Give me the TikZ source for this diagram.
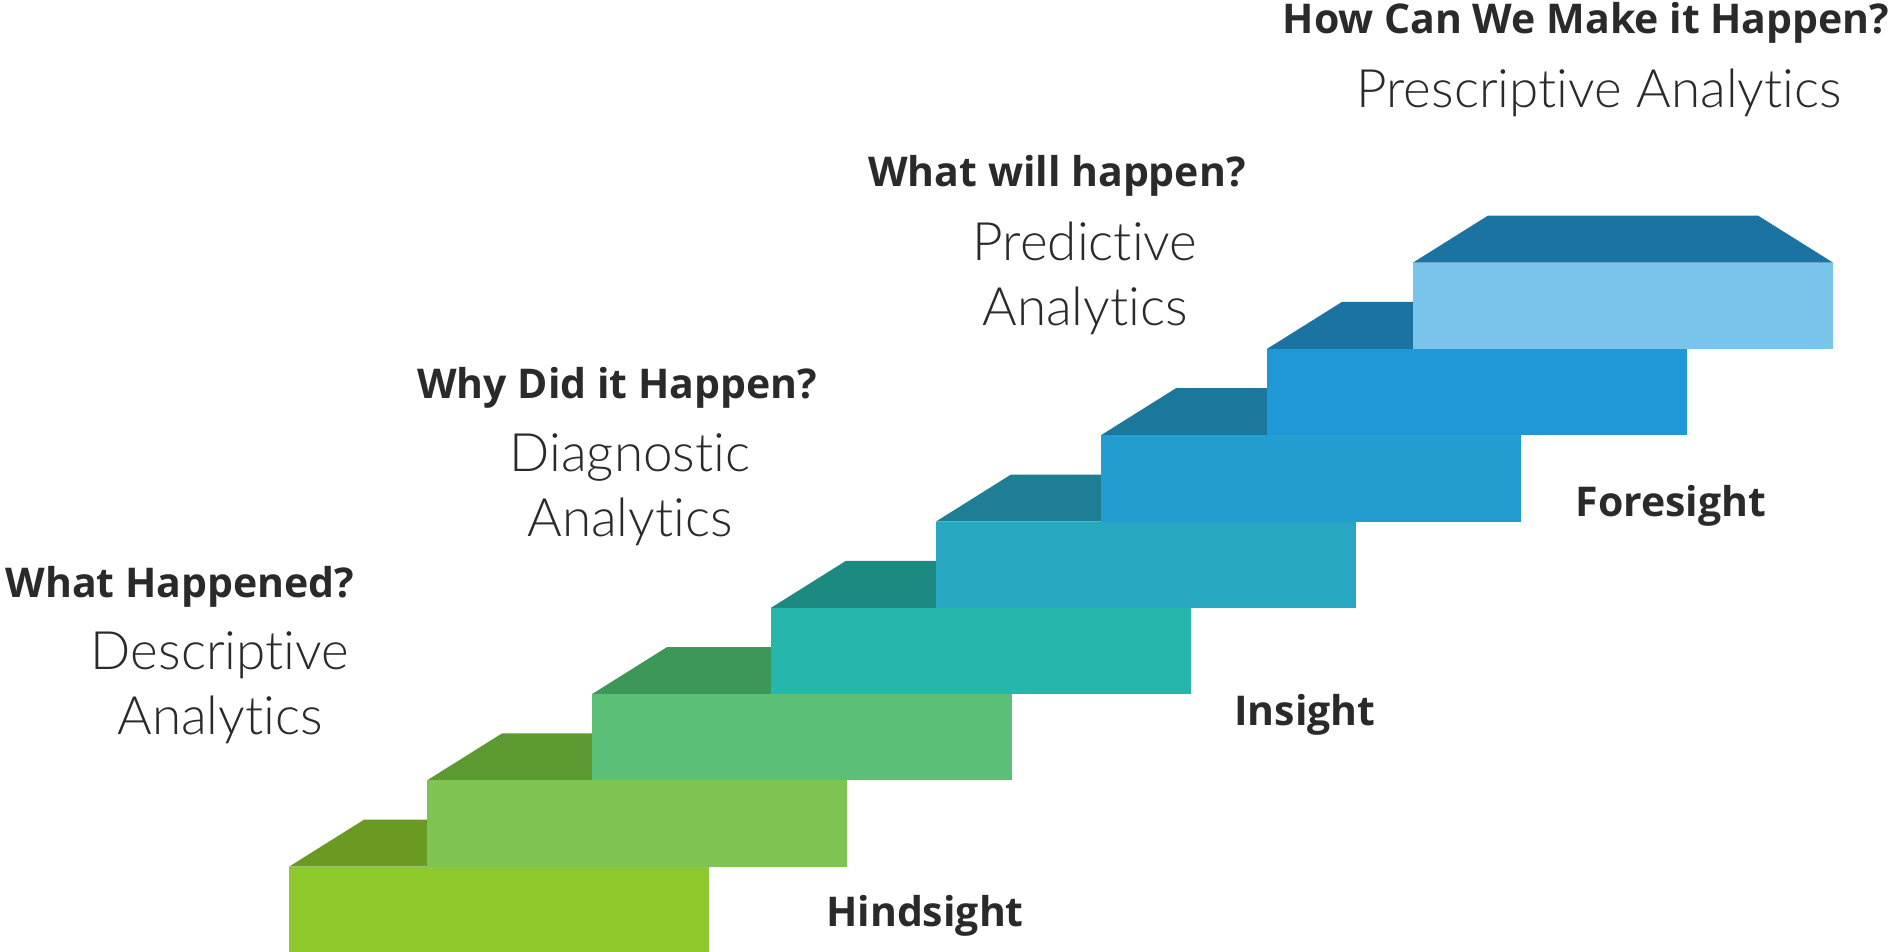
\documentclass[tikz,border=0pt]{standalone}
\usepackage{fontspec}
\newfontfamily\headfont{Open Sans}
\IfFontExistsTF{Lato Light}
  {\newfontfamily\lightfont{Lato Light}[Ligatures=NoCommon]}
  {\newfontfamily\lightfont{Lato}[Ligatures=NoCommon]}

% front / top colours of the eight stairs
\definecolor{f1}{HTML}{8DC92A}\definecolor{u1}{HTML}{6A9A22}
\definecolor{f2}{HTML}{7FC452}\definecolor{u2}{HTML}{5C9A31}
\definecolor{f3}{HTML}{5BBF77}\definecolor{u3}{HTML}{3D9759}
\definecolor{f4}{HTML}{25B7AB}\definecolor{u4}{HTML}{1C8A80}
\definecolor{f5}{HTML}{27A7C2}\definecolor{u5}{HTML}{1E7F94}
\definecolor{f6}{HTML}{239DD0}\definecolor{u6}{HTML}{1B779C}
\definecolor{f7}{HTML}{2098D7}\definecolor{u7}{HTML}{1A73A1}
\definecolor{f8}{HTML}{78C4EA}\definecolor{u8}{HTML}{1B73A2}
\definecolor{ink}{HTML}{2A2A2A}

\tikzset{
  question/.style={text=ink, font=\headfont\bfseries\fontsize{41}{48}\selectfont, inner sep=0pt},
  stage/.style={text=ink, font=\lightfont\fontsize{53}{65}\selectfont, align=center, inner sep=0pt},
  sight/.style={text=ink, font=\headfont\bfseries\fontsize{41}{48}\selectfont, inner sep=0pt},
}

\begin{document}
\begin{tikzpicture}[x=1pt,y=-1pt]
\useasboundingbox (0,0) rectangle (1896,952);

% stairs: top face (trapezoid) then front face, bottom to top
\foreach \k/\x/\t in {1/289/866.7, 2/427/780.4, 3/592/694.1, 4/771/607.8,
                      5/936/521.5, 6/1101/435.2, 7/1267/348.9, 8/1413/262.6}{
  \fill[u\k] (\x,\t) -- ++(75,-47) -- ++(270,0) -- ++(75,47) -- cycle;
  \fill[f\k] (\x,\t) rectangle ++(420,86.3);
}

% questions and analytics stages
\node[question] (q1) at (180,587) {What Happened?};
\node[stage]    (s1) at (220,688) {Descriptive\\Analytics};

\node[question] (q2) at (617,388) {Why Did it Happen?};
\node[stage]    (s2) at (630,490) {Diagnostic\\Analytics};

\node[question] (q3) at (1057,176) {What will happen?};
\node[stage]    (s3) at (1085,278) {Predictive\\Analytics};

\node[question] (q4) at (1586,23) {How Can We Make it Happen?};
\node[stage]    (s4) at (1599,93) {Prescriptive Analytics};

% levels of insight
\node[sight] (h1) at (925,916) {Hindsight};
\node[sight] (h2) at (1305,715) {Insight};
\node[sight] (h3) at (1671,506) {Foresight};
\end{tikzpicture}
\end{document}
